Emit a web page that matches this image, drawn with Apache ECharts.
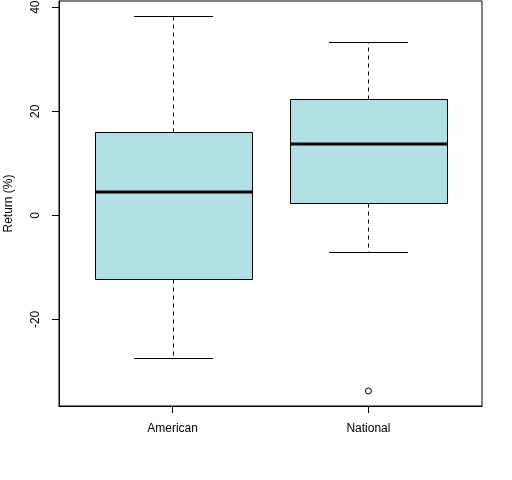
<!DOCTYPE html>
<html>
<head>
<meta charset="utf-8">
<script src="https://cdn.jsdelivr.net/npm/echarts@6/dist/echarts.min.js"></script>
<style>
  html, body { margin: 0; padding: 0; background: #fff; }
  #chart { width: 512px; height: 480px; }
</style>
</head>
<body>
<div id="chart"></div>
<script>
// boxplot stats
var categories = ['American', 'National'];
var lowerWhisker = [-27.5, -7.0];
var q1 = [-12.2, 2.4];
var median = [4.5, 13.7];
var q3 = [16.1, 22.4];
var upperWhisker = [38.3, 33.4];
var outliers = [[2, -33.75]];
var yTicks = [-20, 0, 20, 40];

var chart = echarts.init(document.getElementById('chart'));

// R style axis range: data range widened by 4%
var allVals = lowerWhisker.concat(upperWhisker, outliers.map(function (o) { return o[1]; }));
var lo = Math.min.apply(null, allVals), hi = Math.max.apply(null, allVals);
var pad = (hi - lo) * 0.04;

var boxData = categories.map(function (c, i) {
    return [i + 1, lowerWhisker[i], q1[i], median[i], q3[i], upperWhisker[i]];
});

function crisp(v) { return Math.round(v) + 0.5; }

function renderBox(params, api) {
    var x = api.value(0);
    var cx = crisp(api.coord([x, 0])[0]);
    var half = api.size([0.8, 0])[0] / 2;
    var capHalf = half / 2;
    var yLo = crisp(api.coord([x, api.value(1)])[1]);
    var yQ1 = crisp(api.coord([x, api.value(2)])[1]);
    var yMed = Math.round(api.coord([x, api.value(3)])[1]);
    var yQ3 = crisp(api.coord([x, api.value(4)])[1]);
    var yHi = crisp(api.coord([x, api.value(5)])[1]);
    var left = crisp(cx - half), right = crisp(cx + half);
    var line = { stroke: '#000', lineWidth: 1 };
    var dashed = { stroke: '#000', lineWidth: 1, lineDash: [4, 4] };
    return {
        type: 'group',
        children: [
            { type: 'line', shape: { x1: cx, y1: yQ3, x2: cx, y2: yHi }, style: dashed },
            { type: 'line', shape: { x1: cx, y1: yQ1, x2: cx, y2: yLo }, style: dashed },
            { type: 'line', shape: { x1: Math.round(cx - capHalf), y1: yHi, x2: Math.round(cx + capHalf), y2: yHi }, style: line },
            { type: 'line', shape: { x1: Math.round(cx - capHalf), y1: yLo, x2: Math.round(cx + capHalf), y2: yLo }, style: line },
            { type: 'rect', shape: { x: left, y: yQ3, width: right - left, height: yQ1 - yQ3 },
              style: { fill: '#B0E0E6', stroke: '#000', lineWidth: 1 } },
            { type: 'line', shape: { x1: left, y1: yMed, x2: right, y2: yMed }, style: { stroke: '#000', lineWidth: 3 } }
        ]
    };
}

var font = 'Liberation Sans, Arial, sans-serif';

var option = {
    backgroundColor: '#fff',
    animation: false,
    grid: {
        left: 59, right: 30, top: 1, bottom: 74,
        outerBoundsMode: 'none',
        containLabel: false,
        show: true, borderColor: '#000', borderWidth: 1, backgroundColor: 'transparent'
    },
    xAxis: {
        type: 'value',
        min: 0.42,
        max: 2.58,
        splitLine: { show: false },
        axisLine: { show: true, onZero: false, lineStyle: { color: '#000' } },
        axisTick: { show: true, customValues: [1, 2], length: 7, lineStyle: { color: '#000' } },
        axisLabel: {
            customValues: [1, 2],
            margin: 17,
            color: '#000',
            fontSize: 12,
            fontFamily: font,
            formatter: function (v) { return categories[Math.round(v) - 1]; }
        }
    },
    yAxis: {
        type: 'value',
        min: lo - pad,
        max: hi + pad,
        name: 'Return (%)',
        nameLocation: 'middle',
        nameGap: 44,
        nameTextStyle: { color: '#000', fontSize: 12, fontFamily: font },
        splitLine: { show: false },
        axisLine: { show: true, onZero: false, lineStyle: { color: '#000' } },
        axisTick: { show: true, customValues: yTicks, length: 7, lineStyle: { color: '#000' } },
        axisLabel: {
            customValues: yTicks,
            rotate: 90,
            margin: 17,
            color: '#000',
            fontSize: 12,
            fontFamily: font
        }
    },
    series: [
        {
            type: 'custom',
            renderItem: renderBox,
            data: boxData,
            encode: { x: 0, y: [1, 2, 3, 4, 5] },
            clip: false
        },
        {
            type: 'scatter',
            data: outliers,
            symbol: 'circle',
            symbolSize: 6,
            itemStyle: { color: 'rgba(0,0,0,0)', borderColor: '#000', borderWidth: 1, opacity: 1 }
        }
    ]
};

chart.setOption(option);
</script>
</body>
</html>
